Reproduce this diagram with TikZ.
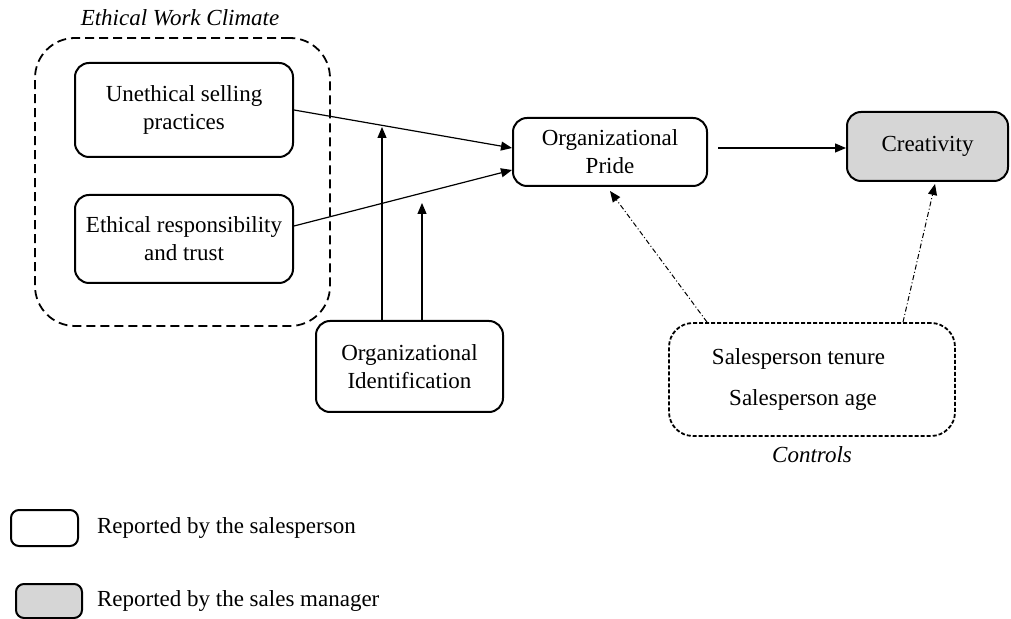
\documentclass[tikz,border=0pt]{standalone}
\usepackage{fontspec}
\setmainfont{Liberation Serif}
\usetikzlibrary{arrows.meta,calc,positioning}

\begin{document}
\begin{tikzpicture}[x=.5pt,y=-.5pt,font=\fontsize{11.5}{14}\selectfont,
 box/.style={draw,line width=1pt,rounded corners=7pt,align=center,inner sep=2pt},
 shadedbox/.style={box,fill=black!16},
 group/.style={draw,line width=.9pt,dash pattern=on 4.5pt off 2.5pt,rounded corners=20pt},
 ctrlgroup/.style={draw,line width=.9pt,dash pattern=on 2pt off 1pt,rounded corners=12pt,align=center},
 link/.style={line width=.6pt,-{Triangle[length=5.5pt,width=4.5pt]}},
 ctrllink/.style={line width=.5pt,dash pattern=on 2.5pt off 1.2pt on .5pt off 1.2pt,-{Triangle[length=5.5pt,width=4.5pt]}}]
\useasboundingbox (0,0) rectangle (1011,619);
% ethical work climate
\node[group,minimum width=147.5pt,minimum height=144pt] (climate) at (182.5,182) {};
\node[font=\fontsize{11.5}{14}\selectfont\itshape] (climatelabel) at (180,18) {Ethical Work Climate};
\node[box,minimum width=109pt,minimum height=47pt] (unethical) at (184,110) {Unethical selling\\practices};
\node[box,minimum width=109pt,minimum height=44pt] (ethical) at (184,239) {Ethical responsibility\\and trust};
% mediator, outcome, moderator
\node[box,minimum width=97pt,minimum height=34pt] (pride) at (610,152) {Organizational\\Pride};
\node[shadedbox,minimum width=80.5pt,minimum height=34.5pt] (creat) at (927.5,146.5) {Creativity};
\node[box,minimum width=93.5pt,minimum height=45.5pt] (ident) at (409.5,366.5) {Organizational\\Identification};
% controls
\node[ctrlgroup,minimum width=143pt,minimum height=56.5pt] (controls) at (812,379.5) {Salesperson tenure\hspace*{13.5pt}\\[6.5pt]Salesperson age\hspace*{9pt}};
\node[font=\fontsize{11.5}{14}\selectfont\itshape] (ctrllabel) at (812,455) {Controls};
\coordinate (mod1) at (382,127);
\coordinate (mod2) at (422,203);
\draw[link] (unethical.east) -- ([yshift=2pt]pride.west);
\draw[link] ([yshift=6.5pt]ethical.east) -- ([yshift=-9pt]pride.west);
\draw[link] ([xshift=-13.75pt]ident.north) -- (mod1);
\draw[link] ([xshift=6.25pt]ident.north) -- (mod2);
\draw[link] ([xshift=5pt,yshift=2pt]pride.east) -- ([yshift=-.75pt]creat.west);
\draw[ctrllink] ([xshift=-52.5pt]controls.north) -- ([yshift=-2pt]pride.south);
\draw[ctrllink] ([xshift=45.5pt]controls.north) -- ([xshift=3.75pt,yshift=-1pt]creat.south);
% legend
\node[box,rounded corners=4pt,minimum width=33.5pt,minimum height=18pt] (legself) at (44.5,528) {};
\node[anchor=west] (legselftext) at (90,528) {Reported by the salesperson};
\node[shadedbox,rounded corners=4pt,minimum width=33pt,minimum height=17pt] (legmgr) at (49,601) {};
\node[anchor=west] (legmgrtext) at (90,601) {Reported by the sales manager};
\end{tikzpicture}
\end{document}
